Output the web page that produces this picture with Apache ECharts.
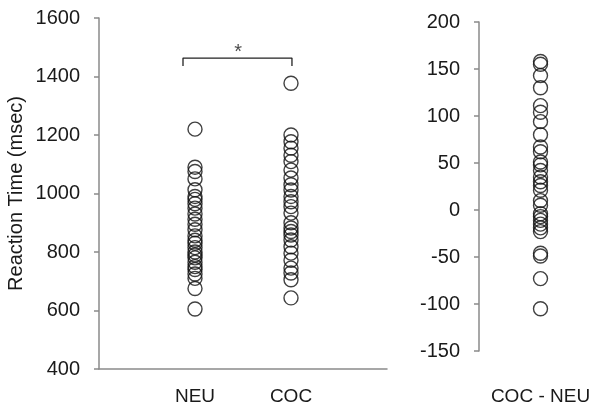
<!DOCTYPE html>
<html>
<head>
<meta charset="utf-8">
<script src="https://cdn.jsdelivr.net/npm/echarts@6/dist/echarts.min.js"></script>
<style>
html, body { margin: 0; padding: 0; background: #fff; }
#main { width: 602px; height: 414px; }
</style>
</head>
<body>
<div id="main"></div>
<script>
// reaction times (msec), one circle per subject
var neuRT = [1220, 1090, 1075, 1050, 1013, 990, 980, 965, 950, 930, 912, 895, 876, 855, 840, 830, 815, 800, 790, 780, 765, 750, 740, 725, 710, 675, 605];
var cocRT = [1377, 1200, 1177, 1155, 1131, 1109, 1080, 1053, 1030, 1012, 990, 972, 955, 933, 900, 882, 870, 858, 841, 818, 796, 772, 745, 728, 705, 643];
var diffRT = [158, 155, 143, 130, 111, 104, 94, 80, 67, 62, 51, 48, 42, 35, 30, 26, 21, 10, 5, -4, -7, -11, -15, -19, -23, -46, -49, -73, -105];

var groupLabels = ['', 'NEU', 'COC'];
var diffLabel = 'COC - NEU';
var leftTicks = { min: 400, max: 1600, step: 200 };
var rightTicks = { min: -150, max: 200, step: 50 };

// significance bracket between NEU and COC
var bracketX = [0.875, 0.875, 2.01, 2.01];
var bracketY = [1436, 1463, 1463, 1436];
var starPos = [1.45, 1463];

var axisGray = '#8a8a8a';
var font = 'Liberation Sans, Arial, sans-serif';
var txt = '#1a1a1a';

var chart = echarts.init(document.getElementById('main'));

var circle = {
    type: 'scatter',
    symbol: 'circle',
    symbolSize: 14,
    itemStyle: { color: 'rgba(0,0,0,0)', borderColor: '#111', borderWidth: 1.4 },
    silent: true
};

function plain(v) { return String(v); }

var option = {
    animation: false,
    backgroundColor: '#fff',
    textStyle: { fontFamily: font },
    grid: [
        { left: 99, top: 18, width: 288, height: 351 },
        { left: 479, top: 22, width: 126, height: 329 }
    ],
    xAxis: [
        {
            gridIndex: 0, type: 'value', min: 0, max: 3, interval: 1,
            splitLine: { show: false },
            axisTick: { show: false },
            axisLine: { lineStyle: { color: axisGray, width: 1.5 } },
            axisLabel: {
                margin: 18, fontSize: 19, color: txt, fontFamily: font,
                formatter: function (v) { return groupLabels[v] || ''; }
            }
        },
        {
            gridIndex: 1, type: 'category', data: [diffLabel],
            axisLine: { show: false },
            axisTick: { show: false },
            axisLabel: { margin: 36, fontSize: 19, color: txt, fontFamily: font }
        }
    ],
    yAxis: [
        {
            gridIndex: 0, type: 'value',
            min: leftTicks.min, max: leftTicks.max, interval: leftTicks.step,
            name: 'Reaction Time (msec)', nameLocation: 'middle', nameGap: 73,
            nameTextStyle: { fontSize: 20, color: txt, fontFamily: font },
            splitLine: { show: false },
            axisLine: { show: true, lineStyle: { color: axisGray, width: 1.5 } },
            axisTick: { show: true, length: 5, lineStyle: { color: axisGray, width: 1.5 } },
            axisLabel: { margin: 19, fontSize: 20, color: txt, fontFamily: font, formatter: plain }
        },
        {
            gridIndex: 1, type: 'value',
            min: rightTicks.min, max: rightTicks.max, interval: rightTicks.step,
            splitLine: { show: false },
            axisLine: { show: true, lineStyle: { color: axisGray, width: 1.5 } },
            axisTick: { show: true, length: 5, lineStyle: { color: axisGray, width: 1.5 } },
            axisLabel: { margin: 19, fontSize: 20, color: txt, fontFamily: font, formatter: plain }
        }
    ],
    series: [
        Object.assign({}, circle, {
            xAxisIndex: 0, yAxisIndex: 0,
            data: neuRT.map(function (v) { return [1, v]; })
        }),
        Object.assign({}, circle, {
            xAxisIndex: 0, yAxisIndex: 0,
            data: cocRT.map(function (v) { return [2, v]; })
        }),
        Object.assign({}, circle, {
            xAxisIndex: 1, yAxisIndex: 1,
            data: diffRT.map(function (v) { return [diffLabel, v]; })
        }),
        {
            type: 'line', xAxisIndex: 0, yAxisIndex: 0,
            data: bracketX.map(function (x, i) { return [x, bracketY[i]]; }),
            symbol: 'none', silent: true,
            lineStyle: { color: '#222', width: 1.3 }
        },
        {
            type: 'scatter', xAxisIndex: 0, yAxisIndex: 0,
            data: [starPos], symbolSize: 0, silent: true,
            label: {
                show: true, position: 'top', distance: -4, formatter: '*',
                fontSize: 20, color: txt, fontFamily: font
            }
        }
    ]
};

chart.setOption(option);
</script>
</body>
</html>
